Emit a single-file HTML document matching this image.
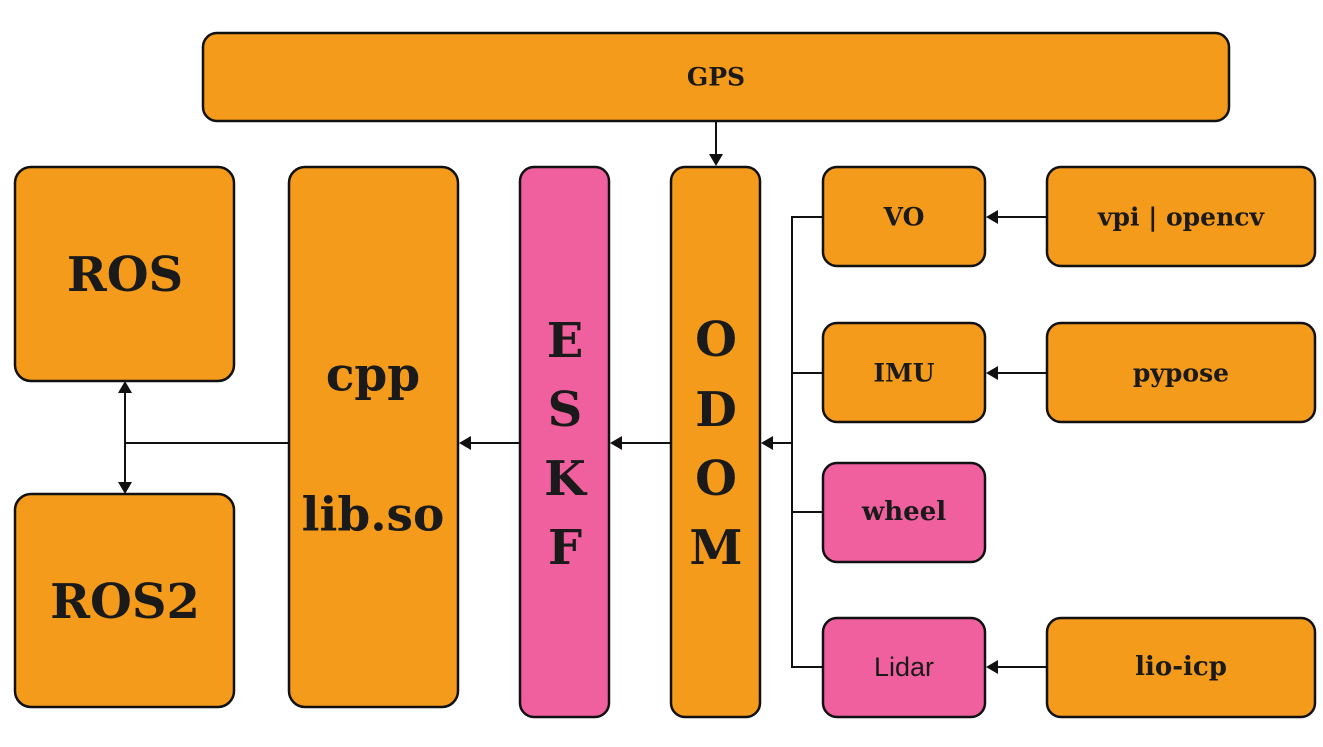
<!DOCTYPE html>
<html><head><meta charset="utf-8"><style>
html,body{margin:0;padding:0;background:#fff;}
svg{display:block}
text{font-family:"DejaVu Serif","Liberation Serif",serif;font-weight:bold;fill:#1a1a1a;text-anchor:middle;dominant-baseline:central}
.o{fill:#F59B1B;stroke:#111;stroke-width:2.5}
.p{fill:#F0609E;stroke:#111;stroke-width:2.5}
.l{stroke:#111;stroke-width:2;fill:none}
</style></head><body>
<svg width="1323" height="747" viewBox="0 0 1323 747">
<path class="l" d="M716 121 V155"/>
<path class="l" d="M125 443 H289"/>
<path class="l" d="M125 393 V482"/>
<path class="l" d="M470 443 H520"/>
<path class="l" d="M621 443 H671"/>
<path class="l" d="M772 443 H792"/>
<path class="l" d="M823 217 H792 V667 H823"/>
<path class="l" d="M792 373 H823 M792 512 H823"/>
<path class="l" d="M997 217 H1047 M997 373 H1047 M997 667 H1047"/>
<g fill="#111">
<path d="M709 154 L723 154 L716 166 z"/>
<path d="M118 393 L132 393 L125 381 z"/>
<path d="M118 482 L132 482 L125 494 z"/>
<path d="M471 436 L471 450 L459 443 z"/>
<path d="M622 436 L622 450 L610 443 z"/>
<path d="M773 436 L773 450 L761 443 z"/>
<path d="M998 210 L998 224 L986 217 z"/>
<path d="M998 366 L998 380 L986 373 z"/>
<path d="M998 660 L998 674 L986 667 z"/>
</g>
<rect class="o" x="203" y="33" width="1026" height="88" rx="14"/>
<text x="716" y="77" font-size="25">GPS</text>
<rect class="o" x="15" y="167" width="219" height="214" rx="16"/>
<text x="125" y="275" font-size="48">ROS</text>
<rect class="o" x="15" y="494" width="219" height="213" rx="16"/>
<text x="125" y="602" font-size="48">ROS2</text>
<rect class="o" x="289" y="167" width="169" height="540" rx="16"/>
<text x="373" y="375" font-size="47">cpp</text>
<text x="373" y="515" font-size="47">lib.so</text>
<rect class="p" x="520" y="167" width="89" height="550" rx="14"/>
<text x="565" y="341" font-size="48">E</text>
<text x="565" y="410" font-size="48">S</text>
<text x="565" y="479" font-size="48">K</text>
<text x="565" y="548" font-size="48">F</text>
<rect class="o" x="671" y="167" width="89" height="550" rx="14"/>
<text x="716" y="340" font-size="48">O</text>
<text x="716" y="410" font-size="48">D</text>
<text x="716" y="479" font-size="48">O</text>
<text x="716" y="548" font-size="48">M</text>
<rect class="o" x="823" y="167" width="162" height="99" rx="14"/>
<text x="904" y="217" font-size="25">VO</text>
<rect class="o" x="1047" y="167" width="268" height="99" rx="14"/>
<text x="1181" y="217" font-size="25">vpi | opencv</text>
<rect class="o" x="823" y="323" width="162" height="99" rx="14"/>
<text x="904" y="373" font-size="25">IMU</text>
<rect class="o" x="1047" y="323" width="268" height="99" rx="14"/>
<text x="1181" y="373" font-size="25">pypose</text>
<rect class="p" x="823" y="463" width="162" height="99" rx="14"/>
<text x="904" y="512" font-size="26">wheel</text>
<rect class="p" x="823" y="618" width="162" height="99" rx="14"/>
<text x="904" y="667" font-size="27" style="font-family:'Liberation Sans',sans-serif;font-weight:normal">Lidar</text>
<rect class="o" x="1047" y="618" width="268" height="99" rx="14"/>
<text x="1181" y="667" font-size="26">lio-icp</text>
</svg>
</body></html>
